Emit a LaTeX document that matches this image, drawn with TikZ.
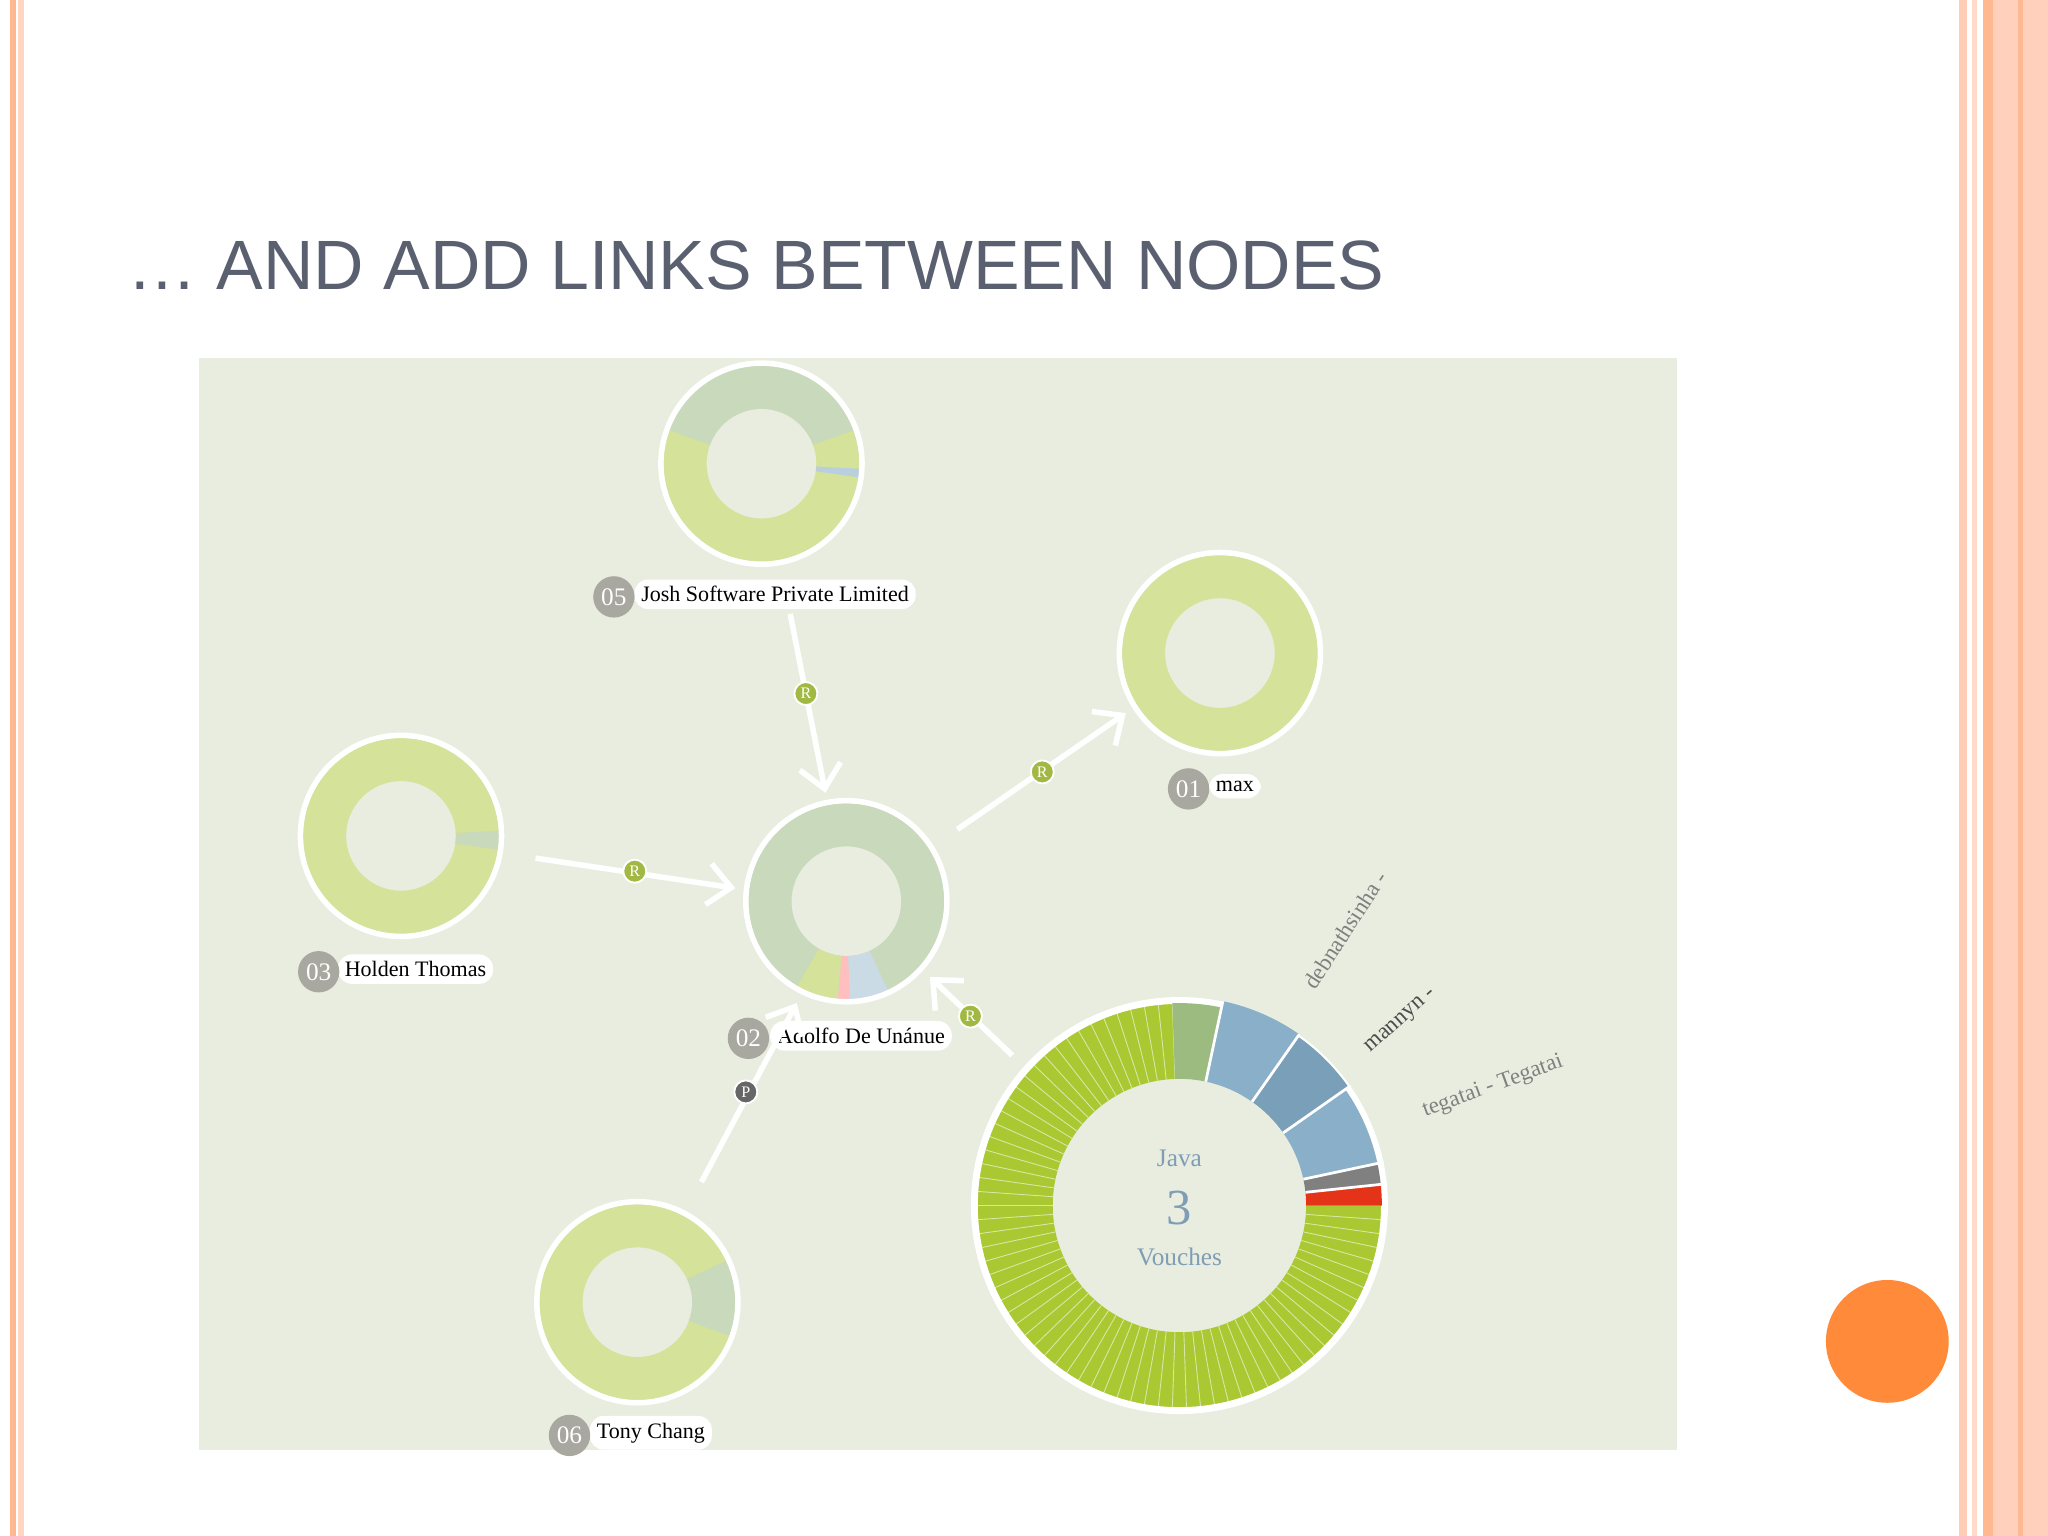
\documentclass[tikz,border=0pt]{standalone}
\usepackage{fontspec}
\setmainfont{Liberation Serif}
\newfontfamily\titlefont{Liberation Sans}
\usetikzlibrary{arrows.meta,calc}
\definecolor{ygreen}{HTML}{D4E29A}
\definecolor{ggreen}{HTML}{C9D9BC}
\definecolor{panel}{HTML}{E8EDE0}
\definecolor{bgreen}{HTML}{A9C832}
\definecolor{mgreen}{HTML}{9CBB80}
\definecolor{jblue}{HTML}{8AAFC8}
\definecolor{jblue2}{HTML}{7A9FB8}
\definecolor{badge}{HTML}{A8A8A0}
\definecolor{txtblue}{HTML}{7F9DB5}
\definecolor{titlec}{HTML}{5A6070}
\definecolor{dotc}{HTML}{FF8A3A}
\tikzset{
 lbl/.style={fill=white,rounded corners=3pt,font=\fontsize{4.8}{6}\selectfont,inner sep=1.5pt,anchor=west},
 num/.style={circle,fill=badge,text=white,font=\fontsize{5.5}{6}\selectfont,minimum size=9pt,inner sep=0pt},
 rb/.style={circle,fill=bgreen!80!gray,draw=white,line width=0.4pt,text=white,font=\fontsize{3.5}{4}\selectfont,minimum size=5pt,inner sep=0pt},
 link/.style={white,line width=1.2pt,-{Straight Barb[length=5pt,width=9pt]}}
}
\newcommand{\donut}[4]{%
 \fill[#4,even odd rule] #1 circle (#2) #1 circle (#3);}
% center, outer, inner, start, end (visual angles), colour
\newcommand{\seg}[6]{%
 \fill[#6] ($#1+(-#4:#2)$) arc (-#4:-#5:#2) -- ($#1+(-#5:#3)$) arc (-#5:-#4:#3) -- cycle;}
\begin{document}
\begin{tikzpicture}[x=0.01cm,y=-0.01cm]
\fill[white] (0,0) rectangle (1568,1176);
\useasboundingbox (0,0) rectangle (1568,1176);
% borders
\fill[orange!40!pink!80] (8,0) rectangle (12,1176);
\fill[orange!30!pink!50] (14,0) rectangle (18,1176);
\fill[orange!30!pink!60] (1500,0) rectangle (1506,1176);
\fill[orange!30!pink!45] (1510,0) rectangle (1514,1176);
\fill[orange!40!pink!80] (1518,0) rectangle (1526,1176);
\fill[orange!30!pink!55] (1526,0) rectangle (1568,1176);
\fill[orange!40!pink!80] (1545,0) rectangle (1549,1176);
\node[anchor=west,text=titlec,font=\titlefont\fontsize{15.2}{18}\selectfont,inner sep=0pt] (title) at (97,203) {\textellipsis{} AND ADD LINKS BETWEEN NODES};
% panel
\fill[panel] (152,274) rectangle (1284,1110);
% small donuts
\donut{(583,355)}{75}{42}{ygreen}
\seg{(583,355)}{75}{42}{20}{160}{ggreen}
\seg{(583,355)}{75}{42}{-3}{-8}{jblue!60}
\draw[white,line width=1.2pt] (583,355) circle (77);
\donut{(934,500)}{75}{42}{ygreen}
\draw[white,line width=1.2pt] (934,500) circle (77);
\donut{(307,640)}{75}{42}{ygreen}
\seg{(307,640)}{75}{42}{3}{-8}{ggreen}
\draw[white,line width=1.2pt] (307,640) circle (77);
\donut{(648,690)}{75}{42}{ggreen}
\seg{(648,690)}{75}{42}{-120}{-95}{ygreen}
\seg{(648,690)}{75}{42}{-95}{-88}{red!25}
\seg{(648,690)}{75}{42}{-88}{-65}{jblue!45}
\draw[white,line width=1.2pt] (648,690) circle (77);
\donut{(488,997)}{75}{42}{ygreen}
\seg{(488,997)}{75}{42}{-20}{25}{ggreen}
\draw[white,line width=1.2pt] (488,997) circle (77);
% big donut
\coordinate (J) at (903,923);
\seg{(J)}{155}{97}{-268}{0}{bgreen}
\foreach \a in {0,4,...,268} \draw[white!55!bgreen,line width=0.2pt] ($(J)+(\a:97)$) -- ($(J)+(\a:155)$);
\draw[white,line width=1.5pt] (J) circle (157);
\seg{(J)}{155}{97}{78}{92}{mgreen}
\seg{(J)}{160}{97}{55}{78}{jblue}
\seg{(J)}{158}{97}{35}{55}{jblue2}
\seg{(J)}{155}{97}{12}{35}{jblue}
\seg{(J)}{155}{97}{6}{12}{gray}
\seg{(J)}{155}{97}{0}{6}{red!60!brown}
\foreach \a in {-78,-55,-35,-12,-6} \draw[white,line width=0.6pt] ($(J)+(\a:97)$) -- ($(J)+(\a:160)$);
\node[text=txtblue,font=\fontsize{5.5}{6}\selectfont] (java) at (903,887) {Java};
\node[text=txtblue,font=\fontsize{11}{12}\selectfont] (three) at (903,925) {3};
\node[text=txtblue,font=\fontsize{5.5}{6}\selectfont] (vouch) at (903,962) {Vouches};
\node[rotate=57,text=gray,font=\fontsize{5}{6}\selectfont,inner sep=0pt] (t1) at (1030,712) {debnathsinha -};
\node[rotate=42,text=black!70,font=\fontsize{5}{6}\selectfont,inner sep=0pt] (t2) at (1073,782) {mannyn -};
\node[rotate=20,text=gray,font=\fontsize{5}{6}\selectfont,inner sep=0pt] (t3) at (1143,832) {tegatai - Tegatai};
% labels
\node[lbl] (l05) at (485,455) {Josh Software Private Limited};
\node[num] at (470,457) {05};
\node[lbl] (l01) at (925,602) {max};
\node[num] at (910,604) {01};
\node[lbl] (l03) at (258,742) {Holden Thomas};
\node[num] at (244,744) {03};
\node[lbl] (l02) at (589,793) {Adolfo De Unánue};
\node[num] at (573,795) {02};
\node[lbl] (l06) at (451,1097) {Tony Chang};
\node[num] at (436,1099) {06};
% links
\coordinate (a1) at (605,470); \coordinate (a2) at (632,607);
\coordinate (b1) at (733,635); \coordinate (b2) at (862,546);
\coordinate (c1) at (410,657); \coordinate (c2) at (563,680);
\coordinate (d1) at (537,905); \coordinate (d2) at (610,768);
\coordinate (e1) at (775,808); \coordinate (e2) at (712,748);
\foreach \p/\q in {a1/a2,b1/b2,c1/c2,d1/d2,e1/e2} \draw[link] (\p) -- (\q);
\node[rb] (r1) at (617,531) {R};
\node[rb] (r2) at (798,591) {R};
\node[rb] (r3) at (486,667) {R};
\node[rb,fill=gray!80!black] (p1) at (571,836) {P};
\node[rb] (r4) at (743,778) {R};
% orange dot
\fill[dotc] (1445,1027) circle (47);
\end{tikzpicture}
\end{document}
